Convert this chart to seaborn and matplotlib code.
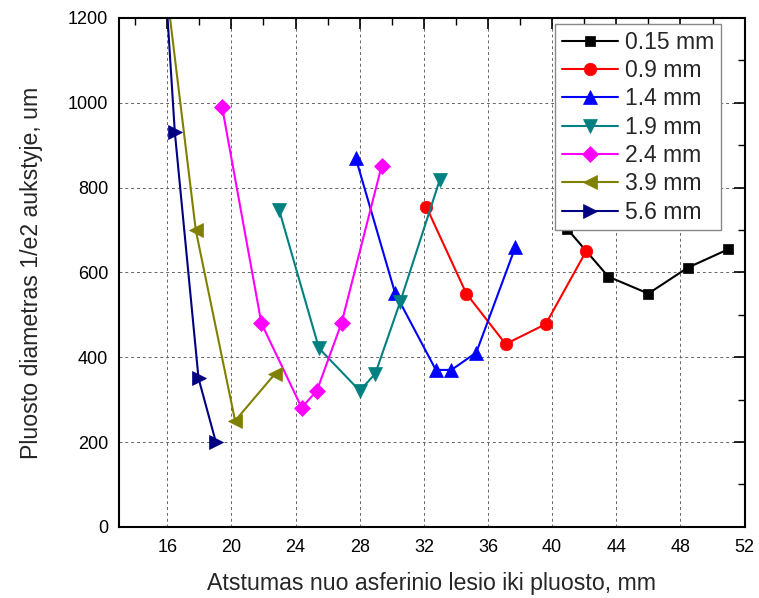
import numpy as np
import pandas as pd
import matplotlib
matplotlib.use("Agg")
import matplotlib.pyplot as plt
import seaborn as sns
from matplotlib.ticker import MultipleLocator

# ---- data ----
labels = ["0.15 mm", "0.9 mm", "1.4 mm", "1.9 mm", "2.4 mm", "3.9 mm", "5.6 mm"]

x_015 = [40.95, 43.5, 46.0, 48.45, 50.95]
y_015 = [702, 590, 550, 611, 654]

x_09 = [32.15, 34.65, 37.1, 39.6, 42.12]
y_09 = [755, 550, 431, 478, 650]

x_14 = [27.75, 30.2, 32.75, 33.72, 35.27, 37.7]
y_14 = [870, 552, 370, 370, 411, 659]

x_19 = [22.97, 25.46, 28.0, 28.97, 30.52, 33.0]
y_19 = [748, 421, 321, 361, 530, 819]

x_24 = [19.42, 21.87, 24.38, 25.33, 26.87, 29.36]
y_24 = [990, 480, 281, 321, 481, 850]

x_39 = [15.85, 17.78, 20.23, 22.72]
y_39 = [1300, 699, 250, 361]

x_56 = [15.85, 16.47, 17.95, 19.03]
y_56 = [1300, 931, 350, 200]

xs = [x_015, x_09, x_14, x_19, x_24, x_39, x_56]
ys = [y_015, y_09, y_14, y_19, y_24, y_39, y_56]

colors = ["#000000", "#FF0000", "#0000FF", "#008080", "#FF00FF", "#808000", "#000080"]
markers = ["s", "o", "^", "v", "D", "<", ">"]
msizes = [7.5, 9, 9.5, 9.5, 8, 9.5, 9.5]

df = pd.concat(
    [pd.DataFrame({"x": x, "y": y, "series": lab}) for x, y, lab in zip(xs, ys, labels)],
    ignore_index=True,
)

sns.set_style("white")
plt.rcParams["font.family"] = ["Liberation Sans", "DejaVu Sans"]

fig = plt.figure(figsize=(7.59, 5.98), dpi=100)
ax = fig.add_axes([0.157, 0.119, 0.824, 0.851])

for lab, col, mk, ms in zip(labels, colors, markers, msizes):
    sub = df[df["series"] == lab]
    sns.lineplot(data=sub, x="x", y="y", ax=ax, sort=False, color=col,
                 marker=mk, markersize=ms, markeredgecolor=col,
                 markeredgewidth=0.5, linewidth=1.5, label=lab, estimator=None)

ax.set_xlim(13, 52)
ax.set_ylim(0, 1200)
ax.xaxis.set_major_locator(MultipleLocator(4))
ax.xaxis.set_minor_locator(MultipleLocator(2))
ax.yaxis.set_major_locator(MultipleLocator(200))
ax.yaxis.set_minor_locator(MultipleLocator(100))
ax.set_xticks(np.arange(16, 53, 4))

ax.grid(True, which="major", linestyle=(0, (3, 3)), color="#666666", linewidth=0.7)
ax.tick_params(which="both", direction="in", top=True, right=True, colors="black",
               labelsize=13)
ax.tick_params(axis="x", which="major", pad=9)
ax.tick_params(axis="y", which="major", pad=8)
ax.tick_params(which="major", length=8, width=1.2)
ax.tick_params(which="minor", length=5, width=1.0)
for s in ax.spines.values():
    s.set_color("black")
    s.set_linewidth(1.5)

ax.set_xlabel("Atstumas nuo asferinio lesio iki pluosto, mm", fontsize=16.7, labelpad=11)
ax.set_ylabel("Pluosto diametras 1/e2 aukstyje, um", fontsize=16.7, labelpad=18)

leg = ax.legend(loc="upper right", bbox_to_anchor=(0.962, 0.988), fontsize=16.5,
                frameon=True, fancybox=False, framealpha=1, edgecolor="#888888",
                handlelength=2.45, handletextpad=0.3, labelspacing=0.23,
                borderpad=0.3, borderaxespad=0.0)
leg.get_frame().set_linewidth(1.0)

fig.savefig("out.png", dpi=100)
